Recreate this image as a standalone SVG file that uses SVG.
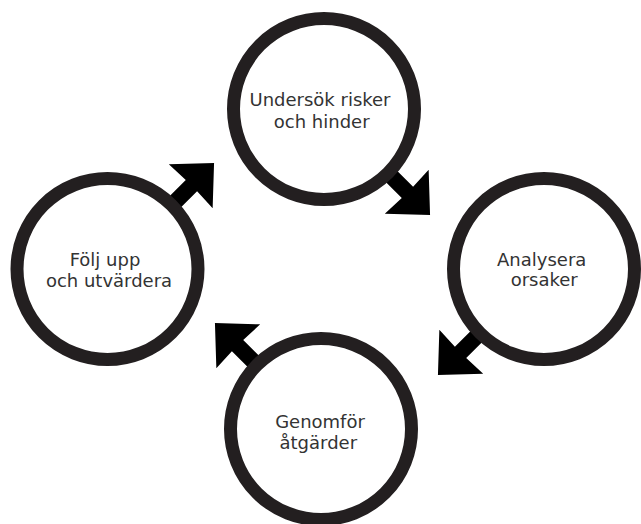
<svg xmlns="http://www.w3.org/2000/svg" xmlns:xlink="http://www.w3.org/1999/xlink" width="641" height="524" viewBox="0 0 641 524">
<style>
.ring{fill:#fff;stroke:#231f20;stroke-width:13}
.lbl{font-family:"DejaVu Sans","Liberation Sans",sans-serif;font-size:18px;fill:#333;text-anchor:middle}
.arr{fill:#000}
</style>
<defs>
<path id="arrow" class="arr" d="M85,-8 L118,-8 L117,-31 L150,0 L117,31 L118,8 L85,8 Z"/>
</defs>
<rect width="641" height="524" fill="#fff"/>
<g id="connectors">
<use xlink:href="#arrow" href="#arrow" transform="translate(324,109) rotate(45)"/>
<use xlink:href="#arrow" href="#arrow" transform="translate(544,269) rotate(135)"/>
<use xlink:href="#arrow" href="#arrow" transform="translate(321,429) rotate(225)"/>
<use xlink:href="#arrow" href="#arrow" transform="translate(108,269) rotate(-45)"/>
</g>
<g id="node-undersok">
<circle class="ring" cx="324" cy="109" r="90.5"/>
<text class="lbl" x="320" y="105.7">Undersök risker</text>
<text class="lbl" x="321.7" y="127.7">och hinder</text>
</g>
<g id="node-analysera">
<circle class="ring" cx="544" cy="269" r="90.5"/>
<text class="lbl" x="541.7" y="266">Analysera</text>
<text class="lbl" x="544.2" y="286">orsaker</text>
</g>
<g id="node-genomfor">
<circle class="ring" cx="321" cy="429" r="90.5"/>
<text class="lbl" x="320" y="428.3">Genomför</text>
<text class="lbl" x="318.3" y="449.3">åtgärder</text>
</g>
<g id="node-folj">
<circle class="ring" cx="107.5" cy="269" r="90.5"/>
<text class="lbl" x="105" y="265.7">Följ upp</text>
<text class="lbl" x="109" y="286.5">och utvärdera</text>
</g>
</svg>
